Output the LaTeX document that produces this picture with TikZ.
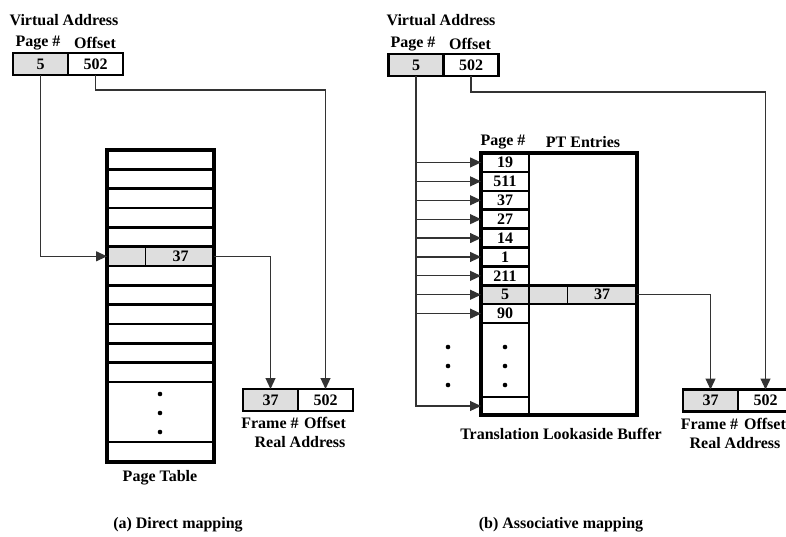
\documentclass[tikz,border=0pt]{standalone}
\usepackage{fontspec}
\setmainfont{Liberation Serif}
\usetikzlibrary{arrows.meta}

\begin{document}
\begin{tikzpicture}[x=1pt,y=-1pt,font=\fontsize{16}{18}\selectfont\bfseries,
cell/.style={draw,line width=2.8pt,inner sep=0pt,outer sep=0pt,minimum height=22pt,minimum width=55pt},
row/.style={draw,line width=2.5pt,inner sep=0pt,outer sep=0pt,minimum width=107pt,minimum height=19.33pt},
tlb/.style={draw,line width=2.5pt,inner sep=0pt,outer sep=0pt,minimum width=48pt,minimum height=18.9pt},
entry/.style={draw,line width=2.5pt,inner sep=0pt,outer sep=0pt,minimum width=108pt,minimum height=18.9pt},
hit/.style={fill=black!13},
rim/.style={line width=3.2pt},
conn/.style={draw=black!80,line width=1.2pt},
arr/.style={conn,-{Triangle[length=11pt,width=10pt]}},
lbl/.style={inner sep=0pt}]
\clip (0,0) rectangle (786,536);
% (a) direct mapping
\node[lbl] (va1) at (64,20) {Virtual Address};
\node[lbl] (hp1) at (38,43) {Page \#};
\node[lbl] (ho1) at (95,43) {Offset};
\node[cell,hit] (vp1) at (40.5,64) {5};
\node[cell] (vo1) at (95.5,64) {502};
\foreach \i in {1,2,3,4,5,7,8,9,10,11,12}
  \node[row] (pt\i) at (160.5,{150+19.33*(\i-0.5)}) {};
\node[row,hit] (pt6) at (160.5,{150+19.33*5.5}) {};
\draw[line width=0.6pt] ([xshift=38pt]pt6.north west) -- ([xshift=38pt]pt6.south west);
\node[lbl] (pv1) at ([xshift=20pt]pt6.center) {37};
\node[row,minimum height=60pt] (ptd) at (160.5,412) {};
\node[row,minimum height=20pt] (ptl) at (160.5,452) {};
\draw[rim] (pt1.north west) rectangle (ptl.south east);
\foreach \y in {394,413,432} \fill (160,\y) circle (2.3pt);
\node[lbl] (ptlab) at (160,478) {Page Table};
\node[cell,hit] (rf1) at (270.5,400) {37};
\node[cell] (ro1) at (325.5,400) {502};
\node[lbl] (hf1) at (270,423) {Frame \#};
\node[lbl] (hr1) at (325,423) {Offset};
\node[lbl] (ra1) at (300,442) {Real Address};
\node[lbl] (capa) at (178,525) {(a) Direct mapping};
\draw[arr] (vp1.south) |- (pt6.west);
\draw[arr] (vo1.south) |- (ro1.north |- 0,90) -- (ro1.north);
\draw[arr] (pt6.east) -| (rf1.north);
% (b) associative mapping
\node[lbl] (va2) at (441,20) {Virtual Address};
\node[lbl] (hp2) at (413,44) {Page \#};
\node[lbl] (ho2) at (470,44) {Offset};
\node[cell,hit] (vp2) at (416,65) {5};
\node[cell] (vo2) at (471,65) {502};
\node[lbl] (hpg) at (503,142) {Page \#};
\node[lbl] (hpt) at (583,142) {PT Entries};
\node[draw,line width=2.5pt,minimum width=108pt,minimum height=262pt,inner sep=0pt,outer sep=0pt] (ent) at (583,284) {};
\foreach \v/\f [count=\i] in {19/white,511/white,37/white,27/white,14/white,1/white,211/white,5/black!13,90/white}
  \node[tlb,fill=\f] (tl\i) at (505,{153+18.9*(\i-0.5)}) {\v};
\node[tlb,minimum height=73.9pt] (tld) at (505,360) {};
\node[tlb,minimum height=18pt] (tll) at (505,406) {};
\node[entry,hit] (te8) at (ent |- tl8) {};
\draw[line width=0.6pt] ([xshift=38pt]te8.north west) -- ([xshift=38pt]te8.south west);
\node[lbl] (tv8) at ([xshift=19pt]te8.center) {37};
\draw[rim] (tl1.north west) rectangle (ent.south east);
\foreach \y in {347,366,385} {\fill (448,\y) circle (2.3pt); \fill (505,\y) circle (2.3pt);}
\node[lbl] (tlab) at (561,434) {Translation Lookaside Buffer};
\node[cell,hit] (rf2) at (710.5,400.5) {37};
\node[cell] (ro2) at (765.5,400.5) {502};
\node[lbl] (hf2) at (709.5,424) {Frame \#};
\node[lbl] (hr2) at (765,424) {Offset};
\node[lbl] (ra2) at (735,443) {Real Address};
\node[lbl] (capb) at (561,525) {(b) Associative mapping};
\foreach \i in {1,...,9} \draw[arr] (vp2.south |- tl\i.west) -- (tl\i.west);
\draw[arr] (vp2.south) |- (tll.west);
\draw[arr] (vo2.south) |- (ro2.north |- 0,92) -- (ro2.north);
\draw[arr] (te8.east) -| (rf2.north);
\end{tikzpicture}
\end{document}
